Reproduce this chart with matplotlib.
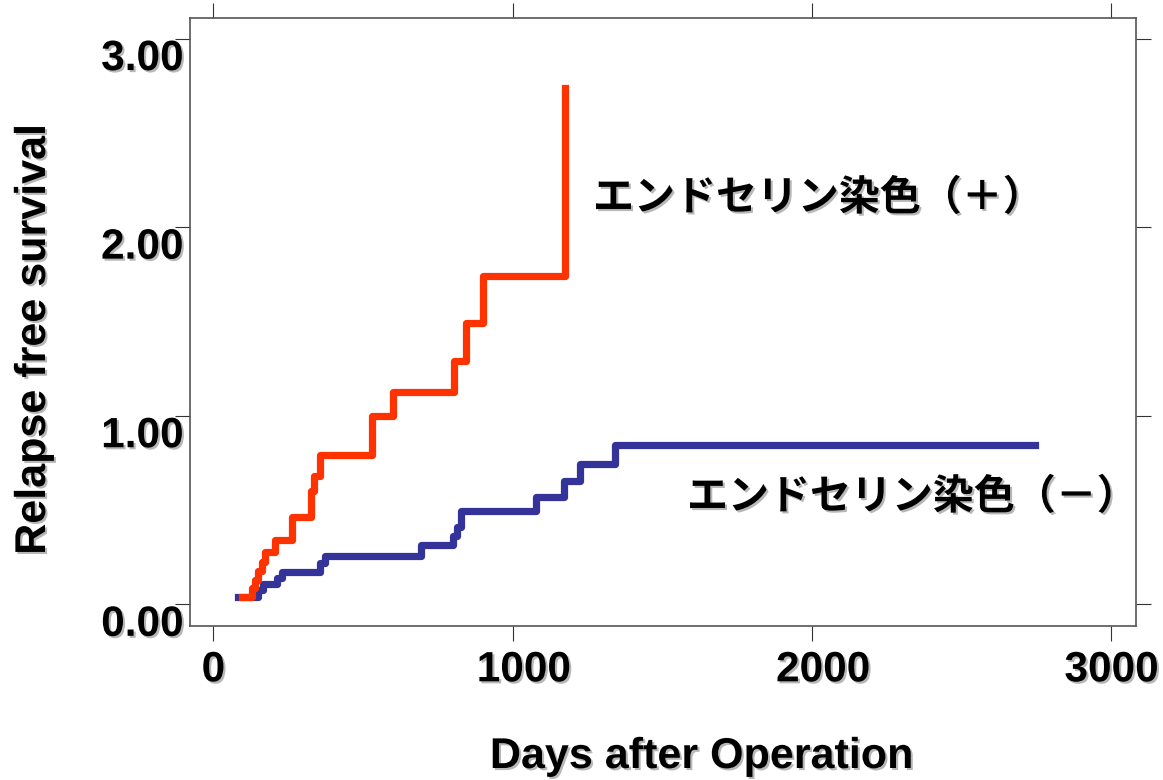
import matplotlib
matplotlib.use("Agg")
from matplotlib import pyplot as plt
from matplotlib import patheffects as pe
from matplotlib.font_manager import FontProperties
from matplotlib.transforms import ScaledTranslation

# survival steps (days, value)
pos_days = [95, 128, 139, 150, 162, 173, 206, 262, 326, 336, 356, 531, 599, 805, 844, 900, 1173]
pos_vals = [0.04, 0.085, 0.13, 0.175, 0.225, 0.28, 0.34, 0.465, 0.60, 0.68, 0.79, 1.00, 1.127, 1.292, 1.493, 1.741, 2.737]

neg_days = [83, 150, 167, 213, 228, 356, 373, 693, 802, 815, 827, 1078, 1171, 1225, 1342, 2745]
neg_vals = [0.037, 0.075, 0.11, 0.14, 0.173, 0.22, 0.258, 0.314, 0.362, 0.41, 0.495, 0.571, 0.654, 0.742, 0.845, 0.845]

x_ticks = [0, 1000, 2000, 3000]
y_ticks = [0, 1, 2, 3]
y_ticklabels = ["0.00", "1.00", "2.00", "3.00"]

label_pos = "エンドセリン染色（＋）"
label_neg = "エンドセリン染色（－）"

shadow = [pe.withSimplePatchShadow(offset=(1.5, -1.5), shadow_rgbFace="#888888", alpha=0.6)]
num_font = {"family": "Liberation Sans", "weight": "bold"}

fig = plt.figure(figsize=(11.63, 7.80), dpi=100)
ax = fig.add_axes([190 / 1163, 1 - 626 / 780, (1135.7 - 190) / 1163, (626 - 18) / 780])

ax.step(neg_days, neg_vals, where="post", color="#333399", lw=5.2, solid_joinstyle="round")
ax.step(pos_days, pos_vals, where="post", color="#FF3300", lw=5.2, solid_joinstyle="round")

ax.set_xlim(-78, 3081)
ax.set_ylim(-0.115, 3.109)

ax.set_xticks(x_ticks)
ax.set_yticks(y_ticks)
ax.set_yticklabels(y_ticklabels)
ax.tick_params(direction="out", length=10.5, width=0.8, color="#333333",
               top=True, right=True, labeltop=False, labelright=False)
ax.tick_params(axis="x", pad=7)
ax.tick_params(axis="y", pad=0)
for sp in ax.spines.values():
    sp.set_color("#555555")
    sp.set_linewidth(1.2)

for lab in ax.get_xticklabels() + ax.get_yticklabels():
    lab.set_fontproperties(FontProperties(**num_font, size=30.5))
    lab.set_path_effects(shadow)
for lab in ax.get_yticklabels():
    lab.set_transform(lab.get_transform() + ScaledTranslation(0.08, -0.16, fig.dpi_scale_trans))
# the middle x labels sit a little right of their ticks in the original
xl = ax.get_xticklabels()
for i in (1, 2):
    xl[i].set_transform(xl[i].get_transform() + ScaledTranslation(0.11, 0, fig.dpi_scale_trans))

fig.text(34 / 1163, 1 - 340 / 780, "Relapse free survival", rotation=90, ha="center", va="center",
         fontsize=31, path_effects=shadow, **num_font)
fig.text(701 / 1163, 1 - 757 / 780, "Days after Operation", ha="center", va="center",
         fontsize=31, path_effects=shadow, **num_font)

jp = ["Noto Sans CJK JP", "DejaVu Sans"]
fig.text(593 / 1163, 1 - 198 / 780, label_pos, ha="left", va="center", fontsize=29.5,
         family=jp, weight="bold", path_effects=shadow)
fig.text(687 / 1163, 1 - 497 / 780, label_neg, ha="left", va="center", fontsize=29.5,
         family=jp, weight="bold", path_effects=shadow)

fig.savefig("out.png", dpi=100)
